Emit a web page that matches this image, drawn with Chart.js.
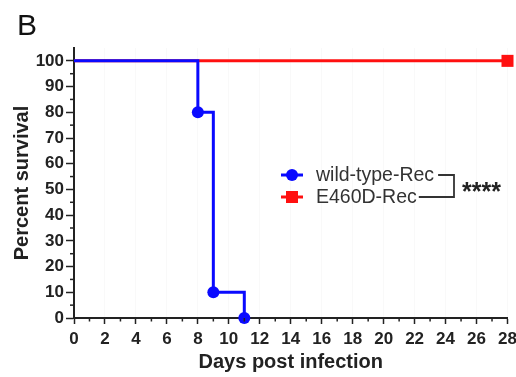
<!DOCTYPE html>
<html><head><meta charset="utf-8">
<script src="https://cdn.jsdelivr.net/npm/chart.js@4"></script>
<style>html,body{margin:0;padding:0;background:#fff}#wrap{width:516px;height:377px}</style>
</head><body><div id="wrap"><canvas id="c" width="516" height="377"></canvas></div>
<script>
const seriesNames = ["wild-type-Rec", "E460D-Rec"];
const wtDays = [0, 8, 9, 11];
const wtSurvival = [100, 80, 10, 0];
const mutDays = [0, 28];
const mutSurvival = [100, 100];
const xTicks = [0,2,4,6,8,10,12,14,16,18,20,22,24,26,28];
const yTicks = [0,10,20,30,40,50,60,70,80,90,100];
const panelLabel = "B";
const significance = "****";

const BLUE = "#0a0aff", RED = "#ff1010";
const FONT = "'Liberation Sans', Arial, sans-serif";

const decor = {
  id: "decor",
  afterDraw(chart) {
    const ctx = chart.ctx;
    const xs = chart.scales.x, ys = chart.scales.y;
    ctx.save();
    // minor ticks
    ctx.strokeStyle = "#222"; ctx.lineWidth = 1.5;
    for (let d = 1; d < 28; d += 2) {
      const px = xs.getPixelForValue(d);
      ctx.beginPath(); ctx.moveTo(px, xs.top); ctx.lineTo(px, xs.top + 3.5); ctx.stroke();
    }
    for (let v = 5; v < 105; v += 10) {
      const py = ys.getPixelForValue(v);
      ctx.beginPath(); ctx.moveTo(ys.right, py); ctx.lineTo(ys.right - 4, py); ctx.stroke();
    }
    // panel label
    ctx.fillStyle = "#111";
    ctx.font = "30px " + FONT;
    ctx.textBaseline = "alphabetic"; ctx.textAlign = "left";
    ctx.fillText(panelLabel, 17, 35);
    // legend
    const lx = 292, ly = [175, 197];
    ctx.font = "19.5px " + FONT;
    ctx.textBaseline = "middle";
    const cols = [BLUE, RED];
    const ends = [];
    for (let i = 0; i < 2; i++) {
      ctx.strokeStyle = cols[i]; ctx.fillStyle = cols[i]; ctx.lineWidth = 3;
      ctx.beginPath(); ctx.moveTo(lx - 11, ly[i]); ctx.lineTo(lx + 11, ly[i]); ctx.stroke();
      ctx.beginPath();
      if (i === 0) ctx.arc(lx, ly[i], 6, 0, Math.PI * 2);
      else ctx.rect(lx - 6, ly[i] - 6, 12, 12);
      ctx.fill();
      ctx.fillStyle = "#333";
      ctx.fillText(seriesNames[i], 316, ly[i] + 1);
      ends.push(316 + ctx.measureText(seriesNames[i]).width);
    }
    ctx.strokeStyle = "#333"; ctx.lineWidth = 1.8;
    ctx.beginPath();
    ctx.moveTo(ends[0] + 4, ly[0]); ctx.lineTo(454, ly[0]); ctx.lineTo(454, ly[1]); ctx.lineTo(ends[1] + 2, ly[1]);
    ctx.stroke();
    ctx.fillStyle = "#222";
    ctx.font = "bold 25px " + FONT;
    ctx.textBaseline = "alphabetic";
    ctx.fillText(significance, 462, 200);
    ctx.restore();
  }
};

new Chart(document.getElementById("c"), {
  type: "line",
  data: {
    datasets: [
      {
        label: seriesNames[0],
        data: wtDays.map((d, i) => ({x: d, y: wtSurvival[i]})),
        borderColor: BLUE, backgroundColor: BLUE, borderWidth: 3,
        stepped: true, pointStyle: "circle",
        pointRadius: wtDays.map((d, i) => i === 0 ? 0 : 6),
        pointBorderWidth: 0, fill: false, clip: false
      },
      {
        label: seriesNames[1],
        data: mutDays.map((d, i) => ({x: d, y: mutSurvival[i]})),
        borderColor: RED, backgroundColor: RED, borderWidth: 3,
        stepped: true, pointStyle: "rect",
        pointRadius: mutDays.map((d, i) => i === 0 ? 0 : 8.5),
        pointBorderWidth: 0, fill: false, clip: false
      }
    ]
  },
  options: {
    responsive: false, animation: false,
    devicePixelRatio: 1,
    layout: { padding: { left: 0, right: 8, top: 48, bottom: 0 } },
    plugins: { legend: { display: false }, tooltip: { enabled: false } },
    scales: {
      x: {
        type: "linear", min: 0, max: 28,
        afterBuildTicks: s => { s.ticks = xTicks.map(v => ({value: v})); },
        afterFit: s => { s.height = 59; s.paddingRight = 0; s.paddingLeft = 0; },
        grid: { display: true, drawOnChartArea: true, color: "rgba(0,0,0,0.025)", tickColor: "#222", tickLength: 6, tickWidth: 1.5 },
        border: { display: true, color: "#222", width: 2 },
        ticks: { color: "#222", font: { family: FONT, size: 17, weight: "bold" }, padding: 5, maxRotation: 0, autoSkip: false },
        title: { display: true, text: "Days post infection", color: "#222", font: { family: FONT, size: 20, weight: "bold" }, padding: { top: 0, bottom: 3 } }
      },
      y: {
        type: "linear", min: 0, max: 105,
        afterBuildTicks: s => { s.ticks = yTicks.map(v => ({value: v})); },
        afterFit: s => { s.width = 74; s.paddingTop = 0; s.paddingBottom = 0; },
        grid: { display: true, drawOnChartArea: false, tickColor: "#222", tickLength: 8, tickWidth: 1.5 },
        border: { display: true, color: "#222", width: 2 },
        ticks: { color: "#222", font: { family: FONT, size: 17, weight: "bold" }, padding: 2, autoSkip: false },
        title: { display: true, text: "Percent survival", color: "#222", font: { family: FONT, size: 20, weight: "bold" }, padding: { top: 10, bottom: 0 } }
      }
    }
  },
  plugins: [decor]
});
</script></body></html>
